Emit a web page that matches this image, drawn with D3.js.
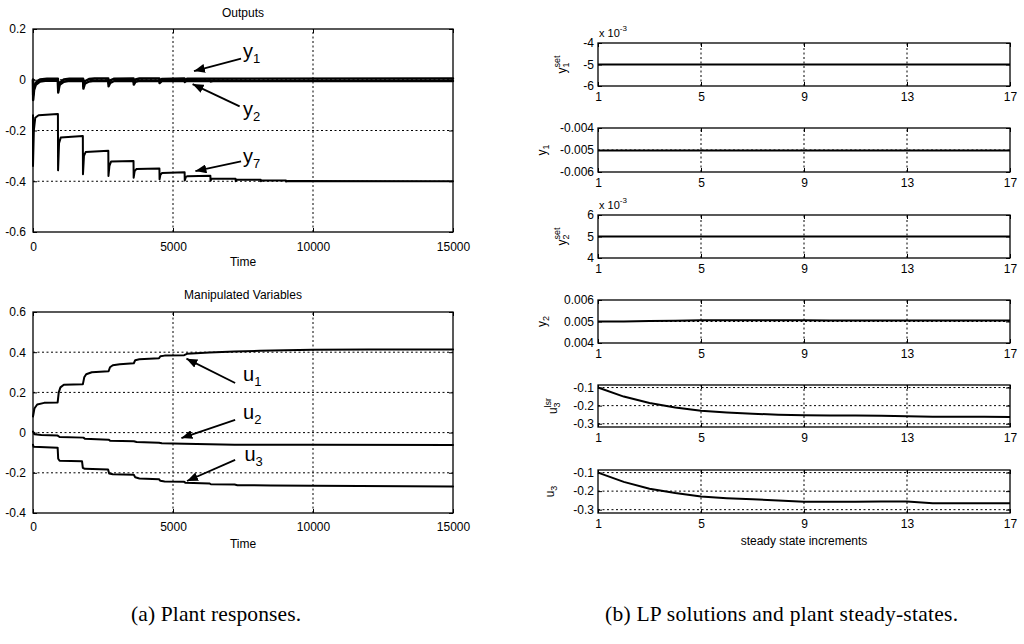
<!DOCTYPE html>
<html><head><meta charset="utf-8">
<script src="https://cdn.jsdelivr.net/npm/d3@7"></script>
<style>
body{margin:0;background:#fff}
svg{display:block}
text{fill:#000}
</style>
</head><body>
<svg id="c" width="1024" height="644"></svg>
<script>
// ================= DATA =================
// (a) Plant responses — Outputs panel, [time, value]
const timeTicks = [0, 5000, 10000, 15000];
const timeTickLabels = ["0", "5000", "10000", "15000"];
const outTicks = [0.2, 0, -0.2, -0.4, -0.6];
const outTickLabels = ["0.2", "0", "-0.2", "-0.4", "-0.6"];
const mvTicks = [0.6, 0.4, 0.2, 0, -0.2, -0.4];
const mvTickLabels = ["0.6", "0.4", "0.2", "0", "-0.2", "-0.4"];

const y1Out = [[0,0],[5,-0.08],[40,-0.04],[100,-0.02],[250,-0.007],[500,-0.003],[890,-0.004],[900,-0.05],[950,-0.02],[1100,-0.008],[1300,-0.004],[1790,-0.005],[1800,-0.035],[1850,-0.016],[2000,-0.007],[2200,-0.004],[2690,-0.005],[2700,-0.026],[2760,-0.012],[2900,-0.005],[3590,-0.005],[3600,-0.019],[3660,-0.008],[3800,-0.004],[4510,-0.005],[4520,-0.013],[4600,-0.005],[5410,-0.005],[5420,-0.009],[5500,-0.004],[6330,-0.005],[6340,-0.007],[6420,-0.005],[15000,-0.005]];
const y2Out = [[0,0],[5,-0.06],[40,-0.03],[100,-0.012],[250,0.001],[500,0.004],[890,0.004],[900,-0.04],[950,-0.012],[1100,0.001],[1300,0.004],[1790,0.004],[1800,-0.026],[1850,-0.006],[2000,0.003],[2200,0.005],[2690,0.005],[2700,-0.016],[2760,-0.002],[2900,0.004],[3590,0.005],[3600,-0.01],[3660,0.001],[3800,0.005],[4510,0.005],[4520,-0.005],[4600,0.003],[5410,0.005],[5420,-0.001],[5500,0.004],[15000,0.005]];
const y7Out = [[0,-0.14],[0,-0.34],[30,-0.2],[80,-0.15],[200,-0.14],[880,-0.135],[890,-0.135],[895,-0.357],[930,-0.25],[990,-0.228],[1780,-0.222],[1785,-0.372],[1820,-0.3],[1880,-0.285],[2690,-0.28],[2695,-0.379],[2730,-0.34],[2790,-0.322],[3590,-0.32],[3595,-0.386],[3630,-0.36],[3690,-0.352],[4515,-0.35],[4520,-0.392],[4550,-0.375],[4610,-0.367],[5415,-0.365],[5420,-0.397],[5460,-0.383],[5520,-0.38],[6335,-0.378],[6340,-0.398],[6380,-0.39],[7235,-0.39],[7240,-0.4],[7280,-0.394],[8135,-0.394],[8140,-0.4],[8180,-0.397],[9035,-0.397],[9040,-0.401],[9100,-0.399],[15000,-0.4]];

// (a) Manipulated Variables panel, [time, value]
const u1Mv = [[0,0.08],[50,0.12],[150,0.14],[400,0.148],[880,0.15],[920,0.2],[980,0.225],[1100,0.238],[1780,0.24],[1830,0.275],[1900,0.29],[2100,0.3],[2700,0.305],[2750,0.325],[2850,0.335],[3100,0.34],[3600,0.345],[3650,0.36],[3800,0.365],[4500,0.37],[4550,0.38],[4700,0.383],[5400,0.385],[5500,0.392],[6300,0.398],[7200,0.403],[8100,0.407],[9000,0.41],[10000,0.412],[12000,0.413],[15000,0.414]];
const u2Mv = [[0,0.005],[50,-0.008],[300,-0.012],[880,-0.015],[950,-0.022],[1800,-0.025],[1850,-0.03],[2700,-0.035],[2750,-0.04],[3600,-0.043],[3700,-0.047],[4500,-0.05],[4600,-0.053],[5400,-0.055],[6300,-0.058],[7200,-0.06],[10000,-0.061],[15000,-0.062]];
const u3Mv = [[0,-0.06],[20,-0.07],[880,-0.075],[900,-0.13],[950,-0.14],[1750,-0.142],[1780,-0.175],[1850,-0.18],[2680,-0.183],[2720,-0.203],[2850,-0.207],[3600,-0.21],[3650,-0.222],[3800,-0.228],[4500,-0.232],[4550,-0.24],[4700,-0.243],[5400,-0.245],[5450,-0.25],[6300,-0.253],[6350,-0.257],[7200,-0.258],[7300,-0.262],[8500,-0.263],[10000,-0.265],[15000,-0.268]];

// (b) LP solutions and plant steady-states
const increments = [1,2,3,4,5,6,7,8,9,10,11,12,13,14,15,16,17];
const incTicks = [1, 5, 9, 13, 17];
const y1SetVals = [-0.005,-0.005,-0.005,-0.005,-0.005,-0.005,-0.005,-0.005,-0.005,-0.005,-0.005,-0.005,-0.005,-0.005,-0.005,-0.005,-0.005];
const y1Vals = [-0.00502,-0.00502,-0.00502,-0.00502,-0.00502,-0.00502,-0.00502,-0.00502,-0.00502,-0.00502,-0.00502,-0.00502,-0.00502,-0.00502,-0.00502,-0.00502,-0.00502];
const y2SetVals = [0.005,0.005,0.005,0.005,0.005,0.005,0.005,0.005,0.005,0.005,0.005,0.005,0.005,0.005,0.005,0.005,0.005];
const y2Vals = [0.005,0.005,0.00502,0.00504,0.00506,0.00506,0.00506,0.00506,0.00506,0.00505,0.00505,0.00505,0.00505,0.00505,0.00505,0.00505,0.00505];
const u3LsrVals = [-0.100,-0.150,-0.185,-0.210,-0.228,-0.238,-0.245,-0.250,-0.253,-0.254,-0.255,-0.256,-0.258,-0.261,-0.262,-0.262,-0.263];
const u3Vals = [-0.100,-0.150,-0.187,-0.210,-0.229,-0.238,-0.244,-0.250,-0.257,-0.257,-0.257,-0.256,-0.256,-0.265,-0.266,-0.266,-0.266];
const yTicksSmall = [-0.004, -0.005, -0.006];
const y1SetTickLabels = ["-4", "-5", "-6"];
const y1TickLabels = ["-0.004", "-0.005", "-0.006"];
const yTicksPos = [0.006, 0.005, 0.004];
const y2SetTickLabels = ["6", "5", "4"];
const y2TickLabels = ["0.006", "0.005", "0.004"];
const uTicks = [-0.1, -0.2, -0.3];
const uTickLabels = ["-0.1", "-0.2", "-0.3"];

// ================= DRAWING =================
const svg = d3.select("#c");
svg.append("rect").attr("width",1024).attr("height",644).attr("fill","#fff");
const SANS = '"Liberation Sans",Arial,Helvetica,sans-serif';
const SERIF = '"Liberation Serif","Times New Roman",serif';
svg.style("font-family", SANS);

const defs = svg.append("defs");
defs.append("marker").attr("id","ah").attr("markerUnits","userSpaceOnUse")
  .attr("markerWidth",12).attr("markerHeight",9).attr("refX",11).attr("refY",4.5).attr("orient","auto")
  .append("path").attr("d","M0,0 L11,4.5 L0,9 Z").attr("fill","#000");

function drawAxes(g, x, y, o){
  const [x0,x1] = x.range(), [y0,y1] = y.range(); // y0 bottom, y1 top
  const gg = g.append("g").attr("stroke","#000").attr("stroke-width",1).attr("stroke-dasharray","2,2.5");
  o.xTicks.forEach(t=>{ const px=x(t); if (Math.abs(px-x0)>1 && Math.abs(px-x1)>1)
     gg.append("line").attr("x1",px).attr("x2",px).attr("y1",y0).attr("y2",y1); });
  o.yTicks.forEach(t=>{ const py=y(t); if (Math.abs(py-y0)>1 && Math.abs(py-y1)>1)
     gg.append("line").attr("x1",x0).attr("x2",x1).attr("y1",py).attr("y2",py); });
  const ax = g.append("g").attr("transform",`translate(0,${y0})`)
    .call(d3.axisBottom(x).tickValues(o.xTicks).tickFormat((d,i)=>o.xLabels[i]).tickSizeInner(-4).tickSizeOuter(0).tickPadding(o.xPad));
  ax.select(".domain").remove();
  ax.attr("font-family",SANS).attr("font-size",12);
  ax.selectAll("text").attr("fill","#000");
  ax.selectAll("line").attr("stroke","#000");
  const at = g.append("g").attr("transform",`translate(0,${y1})`)
    .call(d3.axisTop(x).tickValues(o.xTicks).tickFormat("").tickSizeInner(-4).tickSizeOuter(0));
  at.select(".domain").remove(); at.selectAll("line").attr("stroke","#000");
  const ay = g.append("g").attr("transform",`translate(${x0},0)`)
    .call(d3.axisLeft(y).tickValues(o.yTicks).tickFormat((d,i)=>o.yLabels[i]).tickSizeInner(-4).tickSizeOuter(0).tickPadding(o.yPad));
  ay.select(".domain").remove();
  ay.attr("font-family",SANS).attr("font-size",12);
  ay.selectAll("text").attr("fill","#000");
  ay.selectAll("line").attr("stroke","#000");
  const ar = g.append("g").attr("transform",`translate(${x1},0)`)
    .call(d3.axisRight(y).tickValues(o.yTicks).tickFormat("").tickSizeInner(-4).tickSizeOuter(0));
  ar.select(".domain").remove(); ar.selectAll("line").attr("stroke","#000");
}
function frame(g, x, y){
  const [x0,x1] = x.range(), [y0,y1] = y.range();
  g.append("rect").attr("x",x0).attr("y",y1).attr("width",x1-x0).attr("height",y0-y1)
   .attr("fill","none").attr("stroke","#000").attr("stroke-width",1.3);
}
function series(g, data, x, y, w){
  g.append("path").datum(data)
   .attr("d", d3.line().x(d=>x(d[0])).y(d=>y(d[1])))
   .attr("fill","none").attr("stroke","#000").attr("stroke-width",w||2)
   .attr("stroke-linejoin","round").attr("stroke-linecap","round");
}
function annot(g, x, y, a){
  g.append("line").attr("x1",x(a.from[0])).attr("y1",y(a.from[1]))
   .attr("x2",x(a.to[0])).attr("y2",y(a.to[1]))
   .attr("stroke","#000").attr("stroke-width",1.8).attr("marker-end","url(#ah)");
  const t = g.append("text").attr("x",x(a.at[0])).attr("y",y(a.at[1])).attr("font-size",20);
  t.append("tspan").text(a.base);
  t.append("tspan").attr("font-size",13).attr("dy",5).text(a.sub);
}

// ---- (a) Outputs ----
const xT = d3.scaleLinear().domain([0,15000]).range([33,453]);
const yO = d3.scaleLinear().domain([-0.6,0.2]).range([232,29]);
const gO = svg.append("g");
drawAxes(gO, xT, yO, {xTicks:timeTicks, xLabels:timeTickLabels, yTicks:outTicks, yLabels:outTickLabels, xPad:10, yPad:7});
series(gO, y7Out, xT, yO, 2);
series(gO, y2Out, xT, yO, 2.4);
series(gO, y1Out, xT, yO, 2.4);
frame(gO, xT, yO);
gO.append("text").attr("x",243).attr("y",17).attr("text-anchor","middle").attr("font-size",12).text("Outputs");
gO.append("text").attr("x",243).attr("y",266).attr("text-anchor","middle").attr("font-size",12).text("Time");
const outAnn = [
  {base:"y", sub:"1", at:[7500,0.085], from:[7430,0.083], to:[5750,0.034]},
  {base:"y", sub:"2", at:[7500,-0.142], from:[7380,-0.105], to:[5700,-0.017]},
  {base:"y", sub:"7", at:[7500,-0.33], from:[7430,-0.322], to:[5800,-0.36]}
];
outAnn.forEach(a=>annot(gO, xT, yO, a));

// ---- (a) Manipulated Variables ----
const yM = d3.scaleLinear().domain([-0.4,0.6]).range([513,312]);
const gM = svg.append("g");
drawAxes(gM, xT, yM, {xTicks:timeTicks, xLabels:timeTickLabels, yTicks:mvTicks, yLabels:mvTickLabels, xPad:9.5, yPad:7});
series(gM, u1Mv, xT, yM, 2);
series(gM, u2Mv, xT, yM, 2);
series(gM, u3Mv, xT, yM, 2);
frame(gM, xT, yM);
gM.append("text").attr("x",243).attr("y",299).attr("text-anchor","middle").attr("font-size",12).text("Manipulated Variables");
gM.append("text").attr("x",243).attr("y",548).attr("text-anchor","middle").attr("font-size",12).text("Time");
const mvAnn = [
  {base:"u", sub:"1", at:[7500,0.255], from:[7220,0.247], to:[5480,0.368]},
  {base:"u", sub:"2", at:[7500,0.07], from:[7220,0.063], to:[5300,-0.027]},
  {base:"u", sub:"3", at:[7550,-0.14], from:[7220,-0.136], to:[5500,-0.241]}
];
mvAnn.forEach(a=>annot(gM, xT, yM, a));

// ---- (b) six panels ----
const xI = d3.scaleLinear().domain([1,17]).range([598,1010]);
const panels = [
  {vals:y1SetVals, dom:[-0.006,-0.004], ticks:yTicksSmall, labels:y1SetTickLabels, top:43, bot:86, lab:{b:"y",sub:"1",sup:"set"}, lx:566, exp:true},
  {vals:y1Vals, dom:[-0.006,-0.004], ticks:yTicksSmall, labels:y1TickLabels, top:128, bot:172, lab:{b:"y",sub:"1"}, lx:546},
  {vals:y2SetVals, dom:[0.004,0.006], ticks:yTicksPos, labels:y2SetTickLabels, top:215, bot:258, lab:{b:"y",sub:"2",sup:"set"}, lx:566, exp:true},
  {vals:y2Vals, dom:[0.004,0.006], ticks:yTicksPos, labels:y2TickLabels, top:300, bot:343, lab:{b:"y",sub:"2"}, lx:546},
  {vals:u3LsrVals, dom:[-0.318,-0.086], ticks:uTicks, labels:uTickLabels, top:385, bot:427, lab:{b:"u",sub:"3",sup:"lsr"}, lx:557},
  {vals:u3Vals, dom:[-0.318,-0.086], ticks:uTicks, labels:uTickLabels, top:470, bot:513, lab:{b:"u",sub:"3"}, lx:554}
];
panels.forEach(p=>{
  const y = d3.scaleLinear().domain(p.dom).range([p.bot,p.top]);
  const g = svg.append("g");
  drawAxes(g, xI, y, {xTicks:incTicks, xLabels:incTicks.map(String), yTicks:p.ticks, yLabels:p.labels, xPad:6, yPad:4});
  g.append("path").datum(p.vals)
    .attr("d", d3.line().x((d,i)=>xI(increments[i])).y(d=>y(d)))
    .attr("fill","none").attr("stroke","#000").attr("stroke-width",2);
  frame(g, xI, y);
  const cy = (p.top+p.bot)/2;
  const t = g.append("text").attr("transform",`translate(${p.lx},${cy}) rotate(-90)`)
    .attr("text-anchor","middle").attr("font-size",12);
  t.append("tspan").text(p.lab.b);
  t.append("tspan").attr("font-size",9).attr("dy",3).text(p.lab.sub);
  if (p.lab.sup) t.append("tspan").attr("font-size",9).attr("dx",-5).attr("dy",-9).text(p.lab.sup);
  if (p.exp){
    const e = g.append("text").attr("x",599).attr("y",p.top-6).attr("font-size",11);
    e.append("tspan").text("x 10");
    e.append("tspan").attr("font-size",8).attr("dy",-6).text("-3");
  }
});
svg.append("text").attr("x",804).attr("y",545).attr("text-anchor","middle").attr("font-size",12).text("steady state increments");

// captions
svg.append("text").attr("x",131).attr("y",621).style("font-family",SERIF).attr("font-size",21.5)
  .attr("textLength",170).attr("lengthAdjust","spacing").text("(a) Plant responses.");
svg.append("text").attr("x",605).attr("y",621).style("font-family",SERIF).attr("font-size",21.5)
  .attr("textLength",353).attr("lengthAdjust","spacing").text("(b) LP solutions and plant steady-states.");
</script>
</body></html>
